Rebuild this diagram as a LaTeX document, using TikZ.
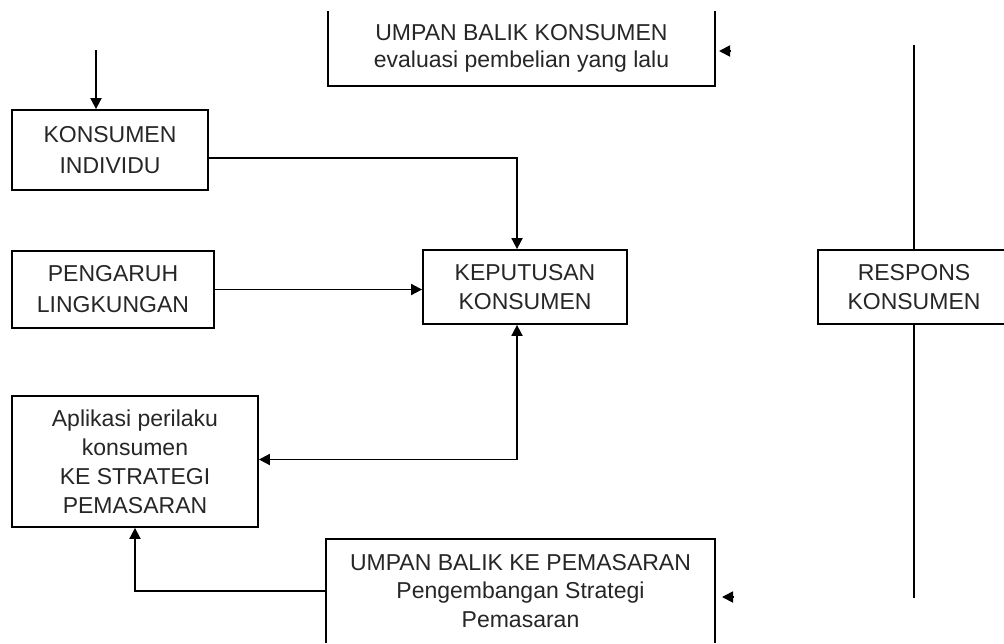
\documentclass[tikz,border=0pt]{standalone}
\usepackage{fontspec}
\setmainfont{Liberation Sans}
\usetikzlibrary{arrows.meta}
\begin{document}
\begin{tikzpicture}[x=1pt,y=-1pt,
  txt/.style={inner sep=0pt, align=center, text=black!85, font=\fontsize{23}{29}\selectfont},
  box/.style={txt, draw=black, line width=1.8pt},
  ln/.style={line width=1.8pt, draw=black},
  conn/.style={ln, -{Triangle[length=11pt,width=11pt]}},
  both/.style={ln, {Triangle[length=11pt,width=11pt]}-{Triangle[length=11pt,width=11pt]}}]
\useasboundingbox (0,0) rectangle (1004,643);
% boxes
\node[txt, minimum width=387pt, minimum height=75pt, font=\fontsize{23}{27}\selectfont] (topfb) at (521.5,48.5)
  {UMPAN BALIK KONSUMEN\\evaluasi pembelian yang lalu};
\draw[ln] (topfb.north west) -- (topfb.south west) -- (topfb.south east) -- (topfb.north east);
\node[box, minimum width=196pt, minimum height=80pt, font=\fontsize{23}{31}\selectfont] (kons) at (110,150)
  {KONSUMEN\\INDIVIDU};
\node[box, minimum width=202pt, minimum height=77pt, font=\fontsize{23}{31}\selectfont] (peng) at (113,289.5)
  {PENGARUH\\LINGKUNGAN};
\node[box, minimum width=204pt, minimum height=74pt] (kep) at (525,287)
  {KEPUTUSAN\\KONSUMEN};
\node[box, minimum width=192pt, minimum height=74pt] (resp) at (914,287)
  {RESPONS\\KONSUMEN};
\node[box, minimum width=246pt, minimum height=131pt] (apl) at (135,461.5)
  {Aplikasi perilaku\\konsumen\\KE STRATEGI\\PEMASARAN};
\node[txt, minimum width=389pt, minimum height=104pt, font=\fontsize{23}{28.5}\selectfont] (botfb) at (520.5,591)
  {UMPAN BALIK KE PEMASARAN\\Pengembangan Strategi\\Pemasaran};
\draw[ln] (botfb.south west) -- (botfb.north west) -- (botfb.north east) -- (botfb.south east);
% free ends
\coordinate (a0) at (96,50);
\coordinate (rt) at (914,45);
\coordinate (rb) at (914,598);
\coordinate (h1s) at (731,51);
\coordinate (h1e) at (719,51);
\coordinate (h2s) at (734,597);
\coordinate (h2e) at (722,597);
% connectors
\draw[conn] (a0) -- (a0 |- kons.north);
\draw[conn] ([yshift=-8pt]kons.east) -| ([xshift=-8pt]kep.north);
\draw[conn] (peng.east) -- (peng.east -| kep.west);
\draw[both] ([xshift=-8pt]kep.south) |- ([yshift=2pt]apl.east);
\draw[conn] (botfb.west) -| (apl.south);
\draw[ln] (rt) -- (resp.north);
\draw[ln] (resp.south) -- (rb);
\draw[conn] (h1s) -- (h1e);
\draw[conn] (h2s) -- (h2e);
\end{tikzpicture}
\end{document}
